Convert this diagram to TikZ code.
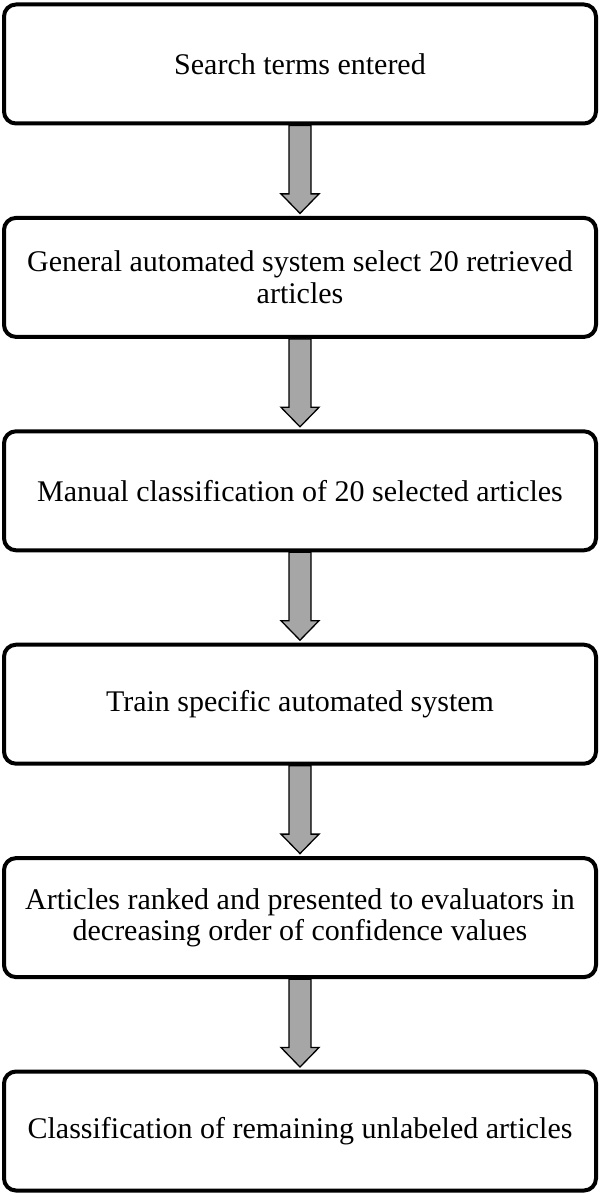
\documentclass[tikz,border=0pt]{standalone}
\usepackage{fontspec}
\setmainfont{Liberation Serif}
\usetikzlibrary{calc}
\definecolor{arrowgray}{HTML}{A6A6A6}
\tikzset{
  stepbox/.style={draw=black, line width=4pt, rounded corners=12pt, fill=white,
    minimum width=592pt, minimum height=119pt, inner sep=0pt, align=center,
    font=\fontsize{30}{31.5}\selectfont},
  fat/.style={fill=arrowgray, draw=black, line width=1.3pt, line join=miter,
    to path={let \p1=(\tikztostart), \p2=(\tikztotarget) in
      (\x1-11pt,\y1) -- (\x1+11pt,\y1) -- (\x1+11pt,\y2+22pt) -- (\x1+19pt,\y2+22pt)
      -- (\x2,\y2+2.5pt) -- (\x1-19pt,\y2+22pt) -- (\x1-11pt,\y2+22pt) -- cycle}}
}
\begin{document}
\begin{tikzpicture}[x=1pt,y=1pt]
\useasboundingbox (0,0) rectangle (600,-1193);
\node[stepbox] (b1) at (300,-64) {Search terms entered};
\node[stepbox] (b2) at (300,-277.4) {General automated system select 20 retrieved\\articles};
\node[stepbox] (b3) at (300,-490.8) {Manual classification of 20 selected articles};
\node[stepbox] (b4) at (300,-704.2) {Train specific automated system};
\node[stepbox] (b5) at (300,-917.6) {Articles ranked and presented to evaluators in\\decreasing order of confidence values};
\node[stepbox] (b6) at (300,-1131) {Classification of remaining unlabeled articles};
\draw[fat] (b1.south) to (b2.north);
\draw[fat] (b2.south) to (b3.north);
\draw[fat] (b3.south) to (b4.north);
\draw[fat] (b4.south) to (b5.north);
\draw[fat] (b5.south) to (b6.north);
\end{tikzpicture}
\end{document}
